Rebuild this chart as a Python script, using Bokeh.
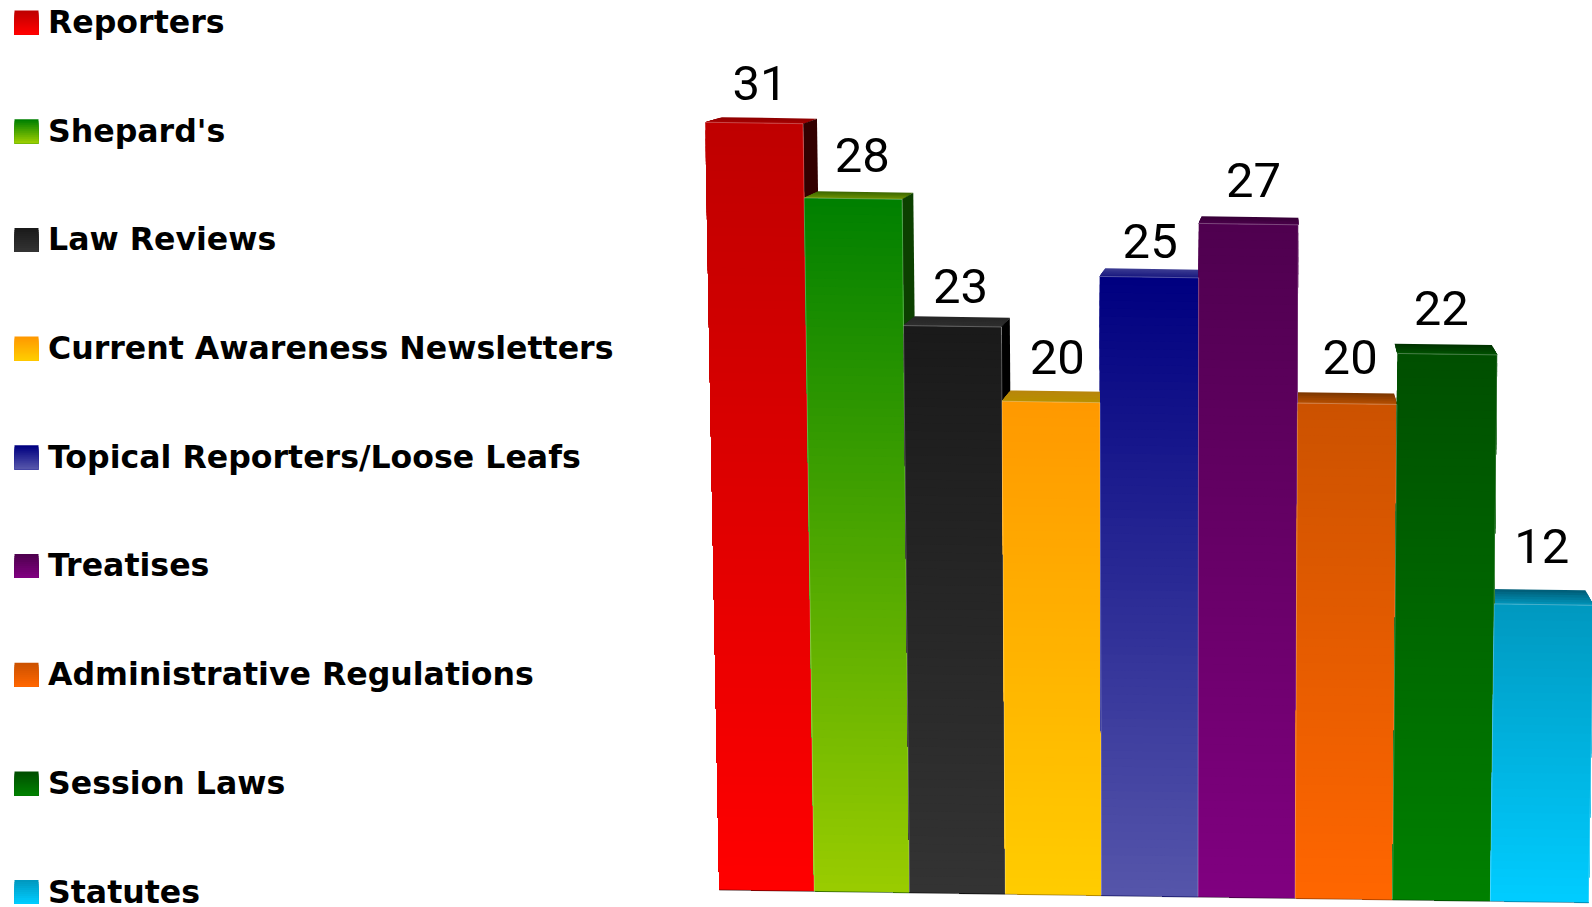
from bokeh.core.properties import value
from bokeh.embed import file_html
from bokeh.models import ColumnDataSource, Range1d
from bokeh.plotting import figure
from bokeh.resources import INLINE

# ---- data ----
categories = ["Reporters", "Shepard's", "Law Reviews", "Current Awareness Newsletters",
              "Topical Reporters/Loose Leafs", "Treatises", "Administrative Regulations",
              "Session Laws", "Statutes"]
values = [31, 28, 22.9, 19.9, 25, 27.2, 20, 22.06, 12]

# ---- styles ----
color_top = ["#bf0000", "#008000", "#1a1a1a", "#ff9900", "#000080", "#4f004f", "#cc5200", "#004f00", "#0099c0"]
color_bottom = ["#ff0000", "#99cc00", "#333333", "#ffcc00", "#5555aa", "#800080", "#ff6600", "#008000", "#00ccff"]
cap_back = ["#8f0000", "#3f6a00", "#262626", "#b8860b", "#3b3b92", "#380038", "#7f3800", "#003300", "#005f7a"]
cap_front = ["#a80000", "#6a9000", "#2e2e2e", "#b88f00", "#1a1a80", "#4a004a", "#b34d00", "#005000", "#0090b5"]
side_color = ["#330000", "#0c4000", "#000000", "#7f6000", "#00004d", "#300030", "#7f3300", "#003300", "#006080"]
label_nudge_x = [6, 9.2, 8, 6.2, 1, 5, 3, -6, -2]
label_nudge_y = [21, 24, 20.5, 25.5, 17, 25, 27.5, 27, 39]

W, H = 1592, 907
LABEL_PX, LEGEND_PX = 49, 31.6
BASELINE_FIX = 0.38


def lerp_color(a, b, t):
    ca = [int(a[i:i + 2], 16) for i in (1, 3, 5)]
    cb = [int(b[i:i + 2], 16) for i in (1, 3, 5)]
    return "#%02x%02x%02x" % tuple(round(p + (q - p) * t) for p, q in zip(ca, cb))


def project(slot, v, depth=0.0):
    """Perspective projection of (category slot, value, depth 0..1) to plot units."""
    x0 = 718.8 + 94.7 * slot + 0.21 * slot ** 2
    y0 = 889 + 1.42 * slot
    h = v * 24.75
    x = x0 + (x0 - 1174) * 4.04e-5 * h
    y = y0 - h
    dy = (5 + 0.0207 * (y - 121.7)) * depth
    dx = (1300 - x) * 0.028 * depth
    return x + dx, y - dy


p = figure(width=W, height=H, output_backend="svg", toolbar_location=None,
           x_range=Range1d(0, W), y_range=Range1d(H, 0), min_border=0,
           outline_line_color=None, background_fill_color="white")
p.axis.visible = False
p.grid.visible = False

# caps and side walls, behind every front face
xs, ys, cs = [], [], []
for i, v in enumerate(values):
    N = 6
    for s in range(N):
        d = 1 - s / N
        a = project(i, v, d)
        b = project(i + 1, v, d)
        c = project(i + 1, v, 0)
        e = project(i, v, 0)
        xs.append([a[0], b[0], c[0], e[0]])
        ys.append([a[1], b[1], c[1], e[1]])
        cs.append(lerp_color(cap_back[i], cap_front[i], s / (N - 1)))
    a = project(i + 1, v, 0)
    b = project(i + 1, v, 1)
    c = project(i + 1, 0, 1)
    e = project(i + 1, 0, 0)
    if b[0] > a[0]:
        xs.append([a[0], b[0], c[0], e[0]])
        ys.append([a[1], b[1], c[1], e[1]])
        cs.append(side_color[i])
p.patches(xs, ys, fill_color=cs, line_color=None)

# front faces: a vertical gradient made of nested bands
xs, ys, cs = [], [], []
for i, v in enumerate(values):
    N = max(8, int(v * 24.75 / 8))
    for s in range(N):
        t = s / N
        a = project(i, v * (1 - t))
        b = project(i + 1, v * (1 - t))
        c = project(i + 1, 0)
        e = project(i, 0)
        xs.append([a[0], b[0], c[0], e[0]])
        ys.append([a[1], b[1], c[1], e[1]])
        cs.append(lerp_color(color_top[i], color_bottom[i], s / (N - 1)))
p.patches(xs, ys, fill_color=cs, line_color=None)

# thin highlights along the faces and the shadow along the foot
ex, ey = [], []
fx, fy, fc = [], [], []
for i, v in enumerate(values):
    a = project(i, v)
    b = project(i + 1, v)
    c = project(i + 1, 0)
    ex.append([a[0], b[0], c[0]])
    ey.append([a[1], b[1], c[1]])
    d = project(i, 0)
    fx.append([d[0], c[0]])
    fy.append([d[1] + 0.5, c[1] + 0.5])
    fc.append(side_color[i])
p.multi_line(ex, ey, line_color="white", line_alpha=0.28, line_width=1)
p.multi_line(fx, fy, line_color=fc, line_alpha=0.6, line_width=1)

# value labels
lx, ly = [], []
for i, v in enumerate(values):
    a = project(i, v)
    b = project(i + 1, v)
    lx.append((a[0] + b[0]) / 2)
    ly.append(a[1])
src = ColumnDataSource(dict(x=lx, y=ly, t=[f"{v:.0f}" for v in values],
                            xo=label_nudge_x,
                            yo=[-n - BASELINE_FIX * LABEL_PX for n in label_nudge_y]))
p.text("x", "y", text="t", source=src, x_offset="xo", y_offset="yo",
       text_font=value("Roboto"), text_font_size=value(f"{LABEL_PX}px"), text_color="black",
       text_align="center", text_baseline="alphabetic")

# legend
ROW0, ROW, SW = 10, 108.7, 24
qx0, qx1, qt, qb, qc = [], [], [], [], []
for k, name in enumerate(categories):
    top = ROW0 + k * ROW
    N = 12
    for s in range(N):
        qx0.append(14)
        qx1.append(14 + SW)
        qt.append(top + SW * s / N)
        qb.append(top + SW)
        qc.append(lerp_color(color_top[k], color_bottom[k], s / (N - 1)))
p.quad(left=qx0, right=qx1, top=qt, bottom=qb, fill_color=qc, line_color=None)
p.text([47.5] * len(categories),
       [ROW0 + k * ROW + 23.5 - BASELINE_FIX * LEGEND_PX for k in range(len(categories))],
       text=categories, text_font=value("DejaVu Sans"), text_font_style="bold",
       text_font_size=value(f"{LEGEND_PX}px"), text_color="black",
       text_align="left", text_baseline="alphabetic")

open("out.html", "w").write(file_html(p, INLINE))
